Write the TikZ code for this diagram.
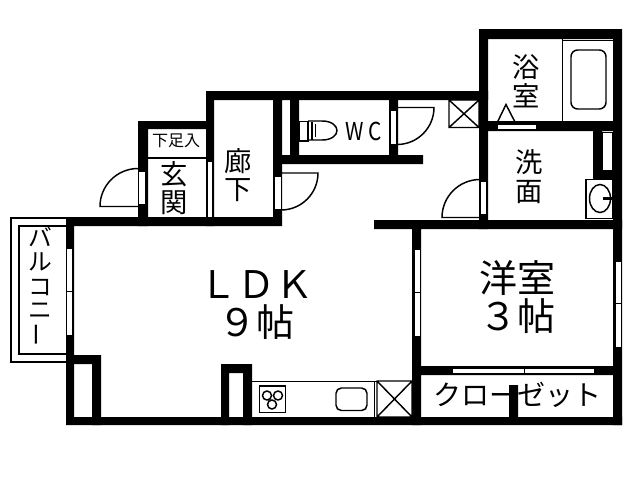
\documentclass[tikz,border=0pt]{standalone}
\usepackage{fontspec}
\setmainfont{Noto Sans CJK JP}
\tikzset{
	wall/.style={fill=black},
	pane/.style={draw=black, line width=0.5pt, fill=white},
	fixture/.style={draw=black, line width=1.1pt},
	kanji/.style={font=\fontsize{20.5}{21.6}\selectfont, align=center, inner sep=0pt},
	roomlabel/.style={font=\fontsize{28.5}{28.5}\selectfont, align=center, inner sep=0pt},
	katakana/.style={font=\fontsize{17.8}{17.8}\selectfont, inner sep=0pt}
}
\begin{document}
\begin{tikzpicture}[x=0.75pt, y=-0.75pt]
	\useasboundingbox (0,0) rectangle (640,480);
	% balcony
	\draw[fixture, line width=0.8pt] (66,218) -- (11,218) -- (11,362) -- (66,362);
	\draw[fixture] (66,226) -- (19,226) -- (19,354) -- (66,354);
	% walls
	\fill[wall] (138,121) rectangle (214,129) (138,121) rectangle (148,226) (206,91) rectangle (214,226);
	\fill[wall] (206,91) rectangle (488,100) (273,91) rectangle (282,226) (66,217) rectangle (282,226);
	\fill[wall] (290,100) rectangle (299,164) (282,155) rectangle (423,164) (389,100) rectangle (398,155);
	\fill[wall] (479,29) rectangle (622,39) (479,29) rectangle (488,229) (613,29) rectangle (622,425);
	\fill[wall] (488,122) rectangle (613,131) (593,131) rectangle (602,179) (593,170) rectangle (613,179);
	\fill[wall] (374,220) rectangle (622,229) (412,220) rectangle (421,425) (421,366) rectangle (613,375);
	\fill[wall] (509,385) rectangle (518,425) (66,417) rectangle (622,425) (66,217) rectangle (74,425);
	\fill[wall] (74,355) rectangle (101,364) (92,355) rectangle (101,425);
	\fill[wall] (221,364) rectangle (252,373) (221,364) rectangle (229,425) (243,364) rectangle (252,425);
	% windows and openings
	\draw[pane] (138.5,171) rectangle (145,204);
	\draw[pane] (207,161) rectangle (212.5,217);
	\draw[pane] (274,176) rectangle (281,209);
	\draw[pane] (390,110) rectangle (396,144);
	\draw[pane] (480,181) rectangle (486,214);
	\draw[pane] (497,124) rectangle (536,129.5);
	\draw[pane] (602,132) rectangle (612,170);
	\draw[pane] (66,248.5) rectangle (72,291) (66,291) rectangle (72,335.5);
	\draw[pane] (414,249.5) rectangle (420,292) (414,292) rectangle (420,336);
	\draw[pane] (615,261) rectangle (621,303) (615,303) rectangle (621,347);
	\draw[pane] (452.5,368) rectangle (524,373.5) (524,368) rectangle (594,373.5);
	% doors
	\draw[fixture] (138,206.5) -- (100,206.5) arc[start angle=180, end angle=270, radius=38];
	\draw[fixture] (282,173) -- (318,173) arc[start angle=0, end angle=90, radius=37];
	\draw[fixture] (398,107.5) -- (434,107.5) arc[start angle=0, end angle=90, radius=37];
	\draw[fixture] (480,217.5) -- (442,217.5) arc[start angle=180, end angle=270, radius=38];
	% entry step
	\draw[fixture] (148,158) -- (206,158);
	% shafts
	\draw[fixture] (449,100) rectangle (479,127.5) (449,100) -- (479,127.5) (479,100) -- (449,127.5);
	\draw[fixture] (377,381) rectangle (412,417) (377,381) -- (412,417) (412,381) -- (377,417);
	% bath
	\draw[fixture] (562.5,39) -- (562.5,122) (563,40.5) -- (613,40.5) (488,121.5) -- (613,121.5);
	\draw[fixture, rounded corners=5pt] (571,50) rectangle (606,109);
	\draw[fixture] (497.5,122) -- (506,104.5) -- (515,122);
	% wash basin
	\draw[fixture] (586,179.5) rectangle (613,218.5);
	\draw[fixture] (600,198.5) ellipse[x radius=10.5, y radius=14];
	\draw[draw=black, line width=2.4pt] (603,198.5) -- (613,198.5);
	% toilet
	\draw[fixture, fill=white] (299,121.5) rectangle (308,141);
	\draw[fixture] (312,121.5) -- (312,140) (315.5,124) -- (315.5,137);
	\draw[fixture] (308,121) -- (322,121) .. controls (332,121) and (337,126) .. (337,130.5) .. controls (337,135) and (332,140) .. (322,140) -- (308,140);
	% kitchen
	\draw[fixture] (252,381.5) -- (377,381.5) (374.5,381.5) -- (374.5,417);
	\draw[fixture] (259.5,386) rectangle (285.5,412.5);
	\draw[fixture] (267,395.5) circle[radius=4.5] (278,395.5) circle[radius=4.5] (272,404.5) circle[radius=4.5];
	\draw[fixture, rounded corners=4pt] (336,388) rectangle (367,410.5);
	% labels
	\node[font=\fontsize{12}{12}\selectfont, inner sep=0pt] (geta) at (176,141) {下足入};
	\node[kanji] (genkan) at (174.5,188) {玄\\関};
	\node[kanji] (roka) at (238.5,175) {廊\\下};
	\node[kanji] (yoku) at (526.5,81.5) {浴\\室};
	\node[kanji] (sen) at (529,177) {洗\\面};
	\node[font=\fontsize{18.5}{18.5}\selectfont, inner sep=0pt, xscale=0.85] (wc) at (364,131) {W C};
	\node[katakana] (ba) at (40,237) {バ};
	\node[katakana] (ru) at (40,262) {ル};
	\node[katakana] (ko) at (40,287) {コ};
	\node[katakana] (ni) at (40,311) {ニ};
	\node[katakana, rotate=90] (bar) at (40,335) {ー};
	\node[roomlabel] (ldk) at (256,305) {ＬＤＫ\\９帖};
	\node[roomlabel] (yoshitsu) at (517.5,297) {洋室\\３帖};
	\node[font=\fontsize{21}{21}\selectfont, inner sep=0pt] (closet) at (517,395) {クローゼット};
	\fill[wall] (509,385) rectangle (518,425);
\end{tikzpicture}
\end{document}
